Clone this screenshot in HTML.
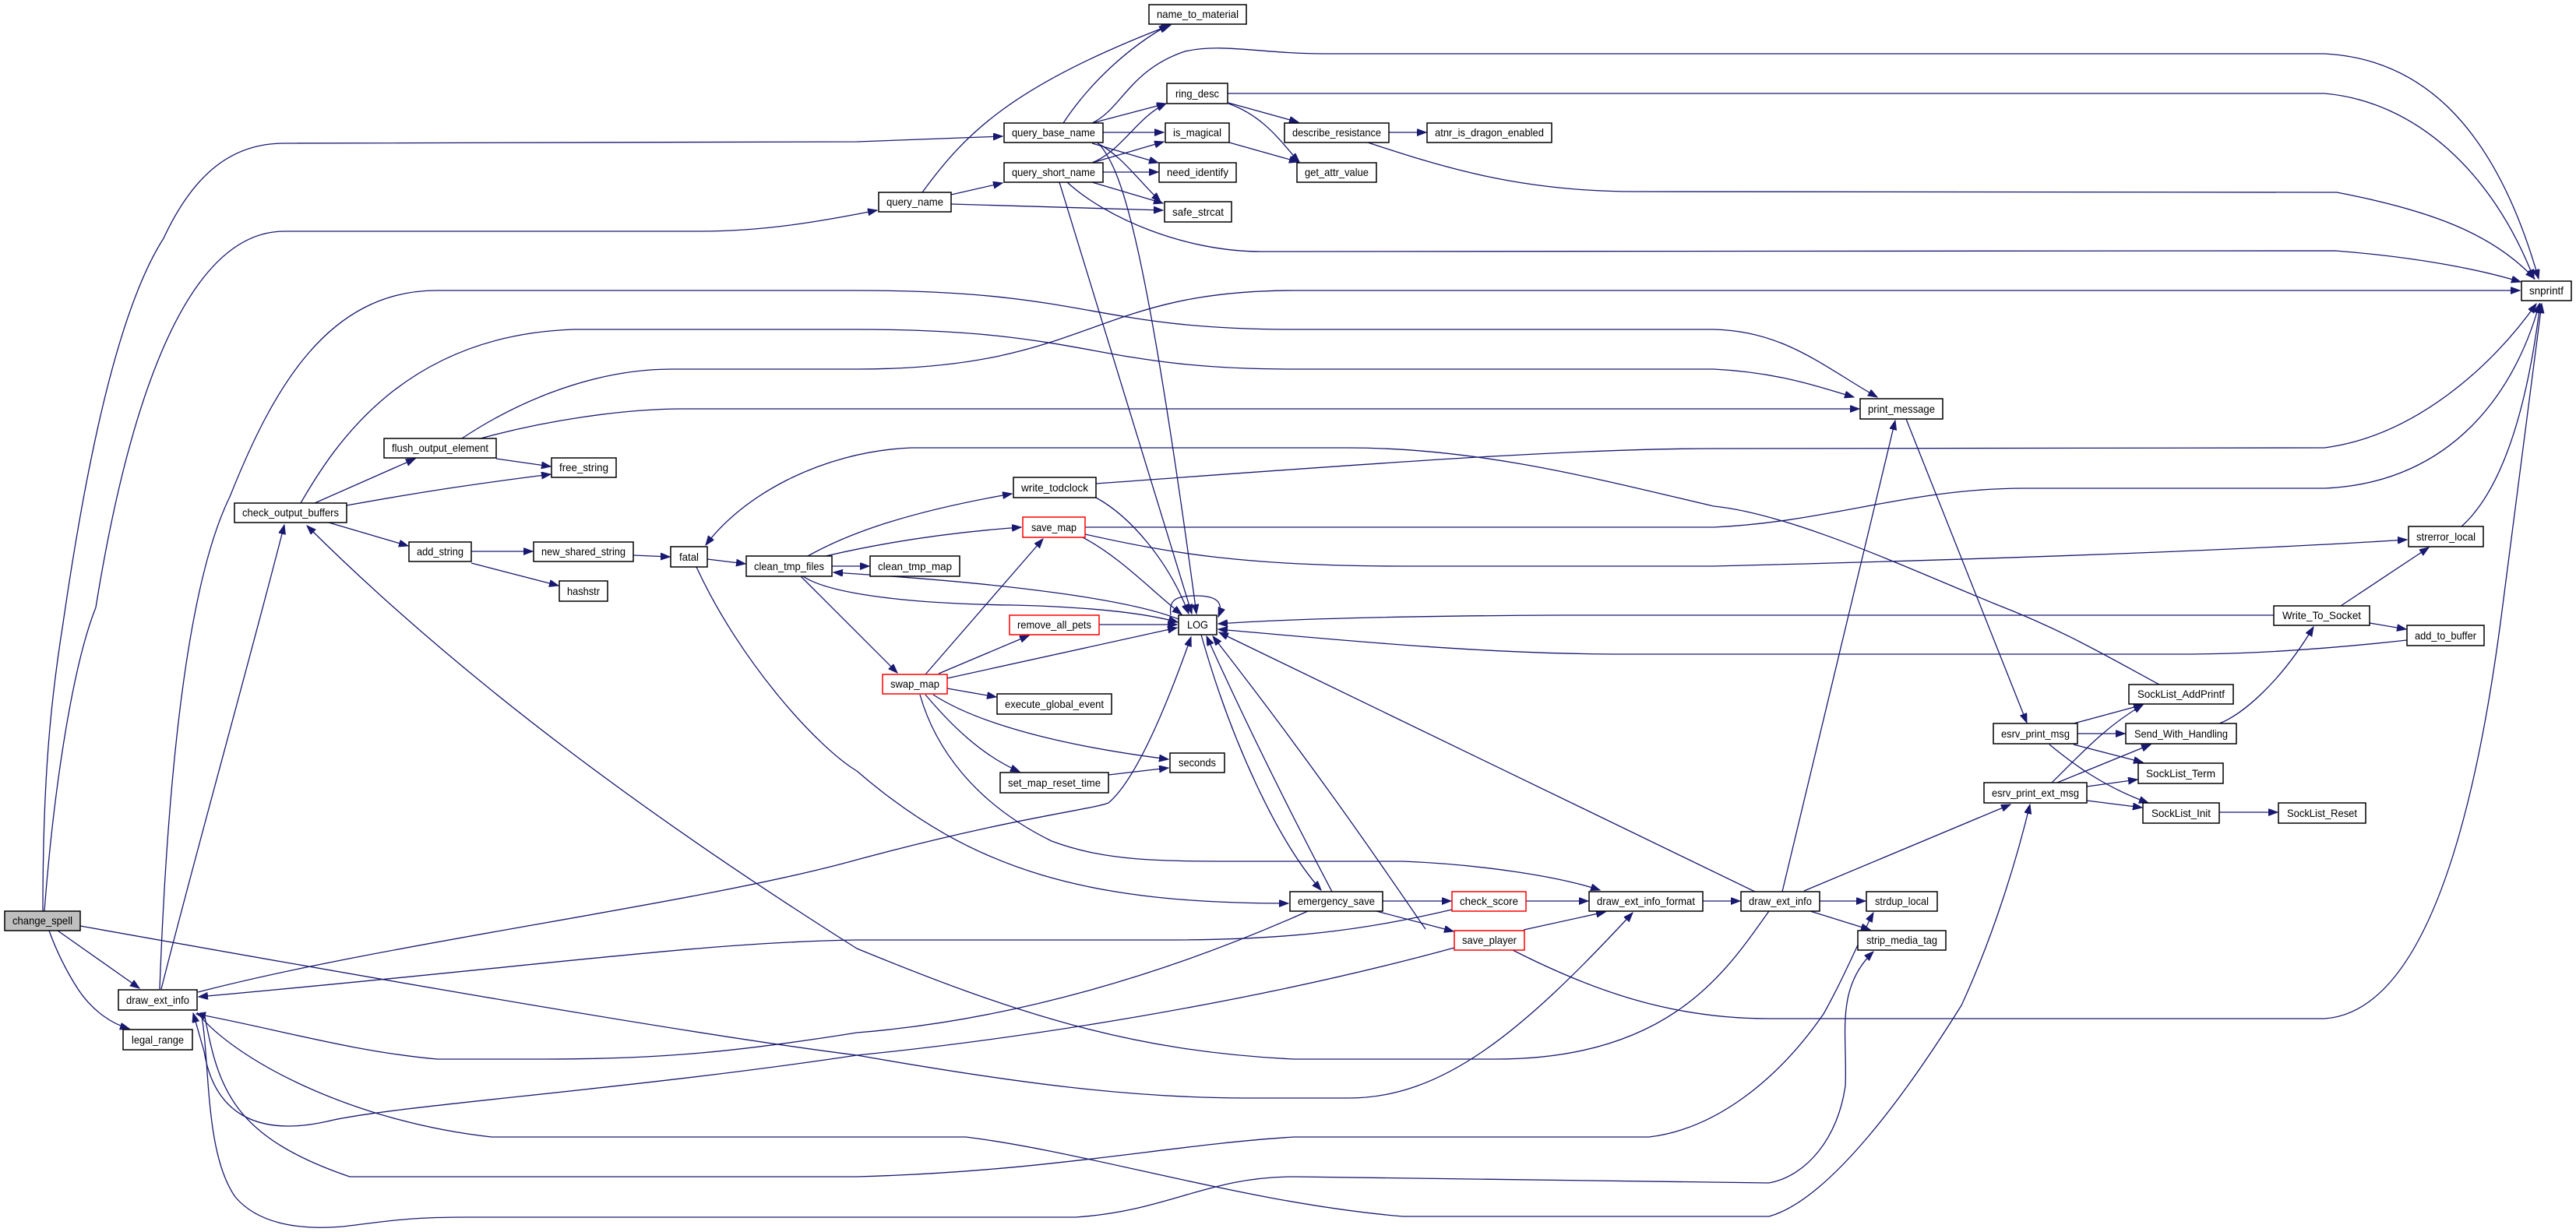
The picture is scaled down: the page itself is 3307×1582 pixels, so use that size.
<!DOCTYPE html>
<html><head><meta charset="utf-8"><style>
html,body{margin:0;padding:0;background:#fff}
svg{display:block}
text{font-family:"Liberation Sans Narrow","Liberation Sans",sans-serif;font-size:14px;fill:#000}
.e{fill:none;stroke:#191970;stroke-width:1.3}
.n{fill:#fff;stroke:#000;stroke-width:1.5}
.r{fill:#fff;stroke:#ff0000;stroke-width:1.5}
</style></head><body>
<svg width="3307" height="1582" viewBox="0 0 3307 1582" xmlns="http://www.w3.org/2000/svg">
<defs><marker id="a" markerWidth="13" markerHeight="10" refX="12" refY="4.5" orient="auto" markerUnits="userSpaceOnUse"><path d="M0,0 L12,4.5 L0,9z" fill="#191970" stroke="#191970"/></marker></defs>
<g class="e" marker-end="url(#a)">
<!-- change_spell -->
<path d="M55,1170 C55,1000 65,900 81,800 C110,600 150,400 210,306 C250,220 300,184 365,184 L1100,182 L1287,175"/>
<path d="M57,1170 C70,1000 95,850 123,780 C160,550 230,297 365,297 L898,297 C980,297 1050,285 1126,270"/>
<path d="M74,1195 L179,1269"/>
<path d="M63,1195 C72,1220 84,1245 100,1270 C120,1300 145,1315 166,1321"/>
<path d="M103,1189 C500,1260 900,1330 1100,1355 C1300,1390 1450,1410 1600,1410 L1731,1410 C1850,1410 1950,1330 2096,1172"/>
<!-- draw_ext_info left -->
<path d="M205,1270 C215,1000 240,750 295,638 C350,500 420,373 561,373 L1100,373 C1400,373 1400,423 1661,423 L2200,423 C2290,425 2340,470 2410,510"/>
<path d="M207,1270 C250,1100 320,850 365,674"/>
<path d="M254,1274 C500,1210 900,1160 1100,1104 C1300,1050 1400,1040 1423,1031 C1460,1000 1500,900 1529,818"/>
<path d="M253,1300 C300,1360 450,1440 631,1460 L1240,1460 C1400,1480 1600,1545 1801,1562 L2271,1562 C2350,1540 2450,1400 2518,1291 C2560,1200 2590,1100 2606,1033"/>
<path d="M262,1300 C280,1400 300,1460 449,1511 L1100,1511 C1350,1504 1500,1470 1661,1460 L2117,1460 C2200,1450 2280,1390 2341,1302 C2370,1250 2390,1200 2405,1172"/>
<path d="M258,1300 C270,1360 262,1480 302,1537 C330,1570 380,1580 440,1575 C500,1568 520,1563 600,1563 L1381,1563 C1500,1555 1550,1511 1661,1511 L2271,1519 C2320,1510 2360,1460 2369,1394 C2372,1330 2355,1270 2405,1222"/>
<!-- check_output_buffers -->
<path d="M386,646 C430,570 520,430 737,423 L1100,423 C1400,423 1400,474 1661,474 L2200,474 C2280,478 2330,495 2380,510"/>
<path d="M404,646 L533,589"/>
<path d="M445,649 C550,630 620,620 707,609"/>
<path d="M422,671 L524,701"/>
<path d="M593,563 C650,525 750,474 863,474 L1100,474 C1400,474 1400,373 1661,373 L3235,373"/>
<path d="M617,563 C700,540 800,525 877,525 L2387,525"/>
<path d="M637,589 L707,599"/>
<path d="M605,708 L684,708"/>
<path d="M605,723 L717,752"/>
<path d="M813,713 L860,715"/>
<path d="M908,718 L957,724"/>
<path d="M894,728 C950,850 1050,960 1100,990 C1250,1120 1400,1160 1654,1160"/>
<!-- clean_tmp_files -->
<path d="M1037,714 C1080,690 1150,660 1299,634"/>
<path d="M1060,714 C1120,700 1200,685 1311,677"/>
<path d="M1068,727 L1116,727"/>
<path d="M1031,740 C1060,760 1150,775 1300,777 C1420,780 1480,790 1512,799"/>
<path d="M1513,795 C1450,770 1300,750 1100,737 L1070,735"/>
<path d="M1028,740 L1152,864"/>
<!-- query nodes -->
<path d="M1184,247 C1240,170 1300,110 1503,32"/>
<path d="M1221,250 L1287,235"/>
<path d="M1221,262 L1493,270"/>
<path d="M1365,158 C1400,105 1450,60 1500,32"/>
<path d="M1402,158 L1497,133"/>
<path d="M1416,170 L1494,170"/>
<path d="M1402,184 L1487,209"/>
<path d="M1409,184 C1440,200 1460,230 1490,259"/>
<path d="M1412,186 C1440,220 1470,300 1536,788"/>
<path d="M1402,158 C1440,140 1450,90 1521,66 C1570,55 1620,69 1700,69 L2984,69 C3100,75 3200,150 3259,358"/>
<path d="M1402,209 C1440,194 1460,150 1497,133"/>
<path d="M1402,209 L1494,182"/>
<path d="M1416,221 L1487,221"/>
<path d="M1402,234 L1493,261"/>
<path d="M1360,234 L1530,788"/>
<path d="M1370,234 C1420,280 1521,323 1619,323 L2998,322 C3100,330 3180,345 3236,362"/>
<path d="M1576,120 L2984,120 C3100,130 3200,220 3253,358"/>
<path d="M1577,132 L1667,157"/>
<path d="M1577,133 C1626,150 1650,190 1668,208"/>
<path d="M1578,183 L1667,208"/>
<path d="M1783,170 L1831,170"/>
<path d="M1756,183 C1850,214 1950,246 2100,246 L3000,247 C3120,270 3200,300 3254,358"/>
<!-- write_todclock / save_map -->
<path d="M1407,621 C1700,600 2000,576 2200,576 L2984,575 C3100,560 3200,470 3256,390"/>
<path d="M1407,639 C1451,663 1500,720 1526,788"/>
<path d="M1393,677 L2200,677 C2350,670 2450,627 2600,627 L2984,627 C3150,620 3230,500 3260,390"/>
<path d="M1388,689 C1437,714 1480,760 1517,789"/>
<path d="M1393,686 C1500,710 1600,727 1800,727 L2200,727 C2600,717 2900,705 3090,693"/>
<path d="M3160,676 C3200,640 3240,560 3261,390"/>
<path d="M1942,1220 C2050,1275 2150,1308 2271,1308 L2984,1308 C3100,1300 3170,1100 3210,800 L3263,390"/>
<!-- swap_map -->
<path d="M1188,866 L1339,692"/>
<path d="M1205,865 L1321,816"/>
<path d="M1216,871 L1511,806"/>
<path d="M1216,884 L1279,895"/>
<path d="M1198,892 C1250,926 1350,956 1500,975"/>
<path d="M1188,892 C1220,930 1260,970 1309,991"/>
<path d="M1181,892 C1200,959 1250,1031 1350,1080 C1420,1106 1486,1106 1600,1106 L1801,1106 C1900,1110 2000,1125 2054,1143"/>
<path d="M1411,802 L1511,802"/>
<path d="M1423,995 L1500,986"/>
<!-- LOG -->
<path d="M1503,790 C1500,770 1510,765 1535,765 C1560,765 1572,772 1564,792"/>
<path d="M1542,815 C1580,950 1640,1080 1696,1143"/>
<path d="M1710,1145 C1660,1050 1600,930 1549,817"/>
<path d="M1830,1193 C1800,1150 1700,1000 1557,817"/>
<path d="M2253,1145 L1565,812"/>
<path d="M2919,790 L2000,790 C1800,791 1650,795 1564,801"/>
<path d="M3090,822 C3000,832 2900,840 2800,840 L2082,840 C1900,840 1700,820 1564,808"/>
<path d="M2772,879 C2700,840 2650,810 2560,775 C2450,730 2300,660 2200,650 C2050,615 1900,575 1731,575 L1170,575 C1050,580 950,640 906,700"/>
<!-- save stuff -->
<path d="M1775,1157 L1863,1157"/>
<path d="M1767,1170 L1866,1196"/>
<path d="M1959,1157 L2039,1157"/>
<path d="M1956,1194 L2061,1171"/>
<path d="M1864,1168 C1750,1195 1650,1207 1500,1207 L1100,1207 C900,1210 700,1240 255,1280"/>
<path d="M1679,1170 C1500,1250 1300,1310 1100,1326 C950,1350 850,1360 700,1360 L561,1360 C450,1350 350,1320 252,1302"/>
<path d="M1867,1217 C1600,1290 1300,1335 1100,1355 C800,1400 500,1420 420,1440 C330,1460 275,1430 262,1350 L248,1301"/>
<path d="M2271,1170 C2220,1240 2150,1360 1921,1360 L1661,1360 C1450,1350 1300,1300 1100,1218 C850,1060 600,880 394,675"/>
<!-- right side -->
<path d="M2186,1157 L2234,1157"/>
<path d="M2288,1145 L2433,540"/>
<path d="M2447,538 L2602,928"/>
<path d="M2316,1144 L2581,1033"/>
<path d="M2336,1157 L2395,1157"/>
<path d="M2324,1170 L2401,1194"/>
<path d="M2662,929 L2751,905"/>
<path d="M2667,942 L2728,942"/>
<path d="M2662,956 L2751,979"/>
<path d="M2631,956 C2660,980 2700,1010 2758,1031"/>
<path d="M2634,1005 C2670,970 2700,935 2751,905"/>
<path d="M2641,1005 L2761,956"/>
<path d="M2679,1010 L2744,1001"/>
<path d="M2679,1028 L2750,1037"/>
<path d="M2849,1043 L2924,1043"/>
<path d="M2849,929 C2878,918 2927,877 2970,805"/>
<path d="M3005,778 L3118,703"/>
<path d="M3042,800 L3089,808"/>
</g>
<g>
<rect class="n" x="6" y="1170" width="97" height="25" style="fill:#bfbfbf"/><text x="54.5" y="1187" text-anchor="middle" textLength="77" lengthAdjust="spacingAndGlyphs">change_spell</text>
<rect class="n" x="152" y="1271" width="101" height="26"/><text x="202.5" y="1289" text-anchor="middle" textLength="81" lengthAdjust="spacingAndGlyphs">draw_ext_info</text>
<rect class="n" x="158" y="1322" width="89" height="26"/><text x="202.5" y="1340" text-anchor="middle" textLength="67" lengthAdjust="spacingAndGlyphs">legal_range</text>
<rect class="n" x="301" y="646" width="144" height="25"/><text x="373" y="663" text-anchor="middle" textLength="124" lengthAdjust="spacingAndGlyphs">check_output_buffers</text>
<rect class="n" x="493" y="563" width="144" height="25"/><text x="565" y="580" text-anchor="middle" textLength="124" lengthAdjust="spacingAndGlyphs">flush_output_element</text>
<rect class="n" x="708" y="588" width="83" height="25"/><text x="749.5" y="605" text-anchor="middle" textLength="63" lengthAdjust="spacingAndGlyphs">free_string</text>
<rect class="n" x="525" y="696" width="80" height="25"/><text x="565" y="713" text-anchor="middle" textLength="60" lengthAdjust="spacingAndGlyphs">add_string</text>
<rect class="n" x="685" y="696" width="128" height="25"/><text x="749" y="713" text-anchor="middle" textLength="108" lengthAdjust="spacingAndGlyphs">new_shared_string</text>
<rect class="n" x="718" y="746" width="62" height="26"/><text x="749" y="764" text-anchor="middle" textLength="42" lengthAdjust="spacingAndGlyphs">hashstr</text>
<rect class="n" x="861" y="702" width="47" height="26"/><text x="884.5" y="720" text-anchor="middle" textLength="25" lengthAdjust="spacingAndGlyphs">fatal</text>
<rect class="n" x="958" y="714" width="110" height="26"/><text x="1013" y="732" text-anchor="middle" textLength="90" lengthAdjust="spacingAndGlyphs">clean_tmp_files</text>
<rect class="n" x="1475" y="6" width="125" height="25"/><text x="1537.5" y="23" text-anchor="middle" textLength="105" lengthAdjust="spacingAndGlyphs">name_to_material</text>
<rect class="n" x="1498" y="107" width="78" height="26"/><text x="1537" y="125" text-anchor="middle" textLength="56" lengthAdjust="spacingAndGlyphs">ring_desc</text>
<rect class="n" x="1289" y="158" width="127" height="25"/><text x="1352.5" y="175" text-anchor="middle" textLength="107" lengthAdjust="spacingAndGlyphs">query_base_name</text>
<rect class="n" x="1496" y="158" width="82" height="25"/><text x="1537" y="175" text-anchor="middle" textLength="62" lengthAdjust="spacingAndGlyphs">is_magical</text>
<rect class="n" x="1649" y="158" width="134" height="25"/><text x="1716" y="175" text-anchor="middle" textLength="114" lengthAdjust="spacingAndGlyphs">describe_resistance</text>
<rect class="n" x="1832" y="158" width="160" height="25"/><text x="1912" y="175" text-anchor="middle" textLength="140" lengthAdjust="spacingAndGlyphs">atnr_is_dragon_enabled</text>
<rect class="n" x="1289" y="209" width="127" height="25"/><text x="1352.5" y="226" text-anchor="middle" textLength="107" lengthAdjust="spacingAndGlyphs">query_short_name</text>
<rect class="n" x="1488" y="209" width="99" height="25"/><text x="1537.5" y="226" text-anchor="middle" textLength="79" lengthAdjust="spacingAndGlyphs">need_identify</text>
<rect class="n" x="1665" y="209" width="102" height="25"/><text x="1716" y="226" text-anchor="middle" textLength="82" lengthAdjust="spacingAndGlyphs">get_attr_value</text>
<rect class="n" x="1128" y="247" width="93" height="25"/><text x="1174.5" y="264" text-anchor="middle" textLength="73" lengthAdjust="spacingAndGlyphs">query_name</text>
<rect class="n" x="1495" y="259" width="86" height="26"/><text x="1538" y="277" text-anchor="middle" textLength="66" lengthAdjust="spacingAndGlyphs">safe_strcat</text>
<rect class="n" x="1301" y="613" width="106" height="26"/><text x="1354" y="631" text-anchor="middle" textLength="86" lengthAdjust="spacingAndGlyphs">write_todclock</text>
<rect class="r" x="1313" y="664" width="80" height="26"/><text x="1353" y="682" text-anchor="middle" textLength="58" lengthAdjust="spacingAndGlyphs">save_map</text>
<rect class="n" x="1117" y="714" width="115" height="26"/><text x="1174.5" y="732" text-anchor="middle" textLength="95" lengthAdjust="spacingAndGlyphs">clean_tmp_map</text>
<rect class="n" x="1513" y="790" width="49" height="25"/><text x="1537.5" y="807" text-anchor="middle" textLength="27" lengthAdjust="spacingAndGlyphs">LOG</text>
<rect class="r" x="1296" y="790" width="115" height="25"/><text x="1353.5" y="807" text-anchor="middle" textLength="95" lengthAdjust="spacingAndGlyphs">remove_all_pets</text>
<rect class="r" x="1133" y="866" width="83" height="25"/><text x="1174.5" y="883" text-anchor="middle" textLength="63" lengthAdjust="spacingAndGlyphs">swap_map</text>
<rect class="n" x="1280" y="891" width="147" height="26"/><text x="1353.5" y="909" text-anchor="middle" textLength="127" lengthAdjust="spacingAndGlyphs">execute_global_event</text>
<rect class="n" x="1502" y="967" width="70" height="25"/><text x="1537" y="984" text-anchor="middle" textLength="48" lengthAdjust="spacingAndGlyphs">seconds</text>
<rect class="n" x="1284" y="992" width="139" height="26"/><text x="1353.5" y="1010" text-anchor="middle" textLength="119" lengthAdjust="spacingAndGlyphs">set_map_reset_time</text>
<rect class="n" x="1656" y="1145" width="119" height="25"/><text x="1715.5" y="1162" text-anchor="middle" textLength="99" lengthAdjust="spacingAndGlyphs">emergency_save</text>
<rect class="r" x="1864" y="1145" width="95" height="25"/><text x="1911.5" y="1162" text-anchor="middle" textLength="75" lengthAdjust="spacingAndGlyphs">check_score</text>
<rect class="n" x="2040" y="1145" width="146" height="25"/><text x="2113" y="1162" text-anchor="middle" textLength="126" lengthAdjust="spacingAndGlyphs">draw_ext_info_format</text>
<rect class="r" x="1867" y="1195" width="90" height="25"/><text x="1912" y="1212" text-anchor="middle" textLength="70" lengthAdjust="spacingAndGlyphs">save_player</text>
<rect class="n" x="3237" y="361" width="64" height="25"/><text x="3269" y="378" text-anchor="middle" textLength="44" lengthAdjust="spacingAndGlyphs">snprintf</text>
<rect class="n" x="2388" y="512" width="106" height="26"/><text x="2441" y="530" text-anchor="middle" textLength="86" lengthAdjust="spacingAndGlyphs">print_message</text>
<rect class="n" x="3092" y="676" width="96" height="26"/><text x="3140" y="694" text-anchor="middle" textLength="76" lengthAdjust="spacingAndGlyphs">strerror_local</text>
<rect class="n" x="2919" y="778" width="123" height="25"/><text x="2980.5" y="795" text-anchor="middle" textLength="101" lengthAdjust="spacingAndGlyphs">Write_To_Socket</text>
<rect class="n" x="3090" y="803" width="99" height="26"/><text x="3139.5" y="821" text-anchor="middle" textLength="79" lengthAdjust="spacingAndGlyphs">add_to_buffer</text>
<rect class="n" x="2733" y="879" width="134" height="25"/><text x="2800" y="896" text-anchor="middle" textLength="112" lengthAdjust="spacingAndGlyphs">SockList_AddPrintf</text>
<rect class="n" x="2559" y="929" width="108" height="26"/><text x="2613" y="947" text-anchor="middle" textLength="88" lengthAdjust="spacingAndGlyphs">esrv_print_msg</text>
<rect class="n" x="2729" y="929" width="142" height="26"/><text x="2800" y="947" text-anchor="middle" textLength="120" lengthAdjust="spacingAndGlyphs">Send_With_Handling</text>
<rect class="n" x="2745" y="980" width="109" height="26"/><text x="2799.5" y="998" text-anchor="middle" textLength="89" lengthAdjust="spacingAndGlyphs">SockList_Term</text>
<rect class="n" x="2547" y="1005" width="132" height="26"/><text x="2613" y="1023" text-anchor="middle" textLength="112" lengthAdjust="spacingAndGlyphs">esrv_print_ext_msg</text>
<rect class="n" x="2751" y="1031" width="98" height="26"/><text x="2800" y="1049" text-anchor="middle" textLength="76" lengthAdjust="spacingAndGlyphs">SockList_Init</text>
<rect class="n" x="2925" y="1031" width="112" height="26"/><text x="2981" y="1049" text-anchor="middle" textLength="90" lengthAdjust="spacingAndGlyphs">SockList_Reset</text>
<rect class="n" x="2235" y="1145" width="101" height="25"/><text x="2285.5" y="1162" text-anchor="middle" textLength="81" lengthAdjust="spacingAndGlyphs">draw_ext_info</text>
<rect class="n" x="2396" y="1145" width="91" height="25"/><text x="2441.5" y="1162" text-anchor="middle" textLength="69" lengthAdjust="spacingAndGlyphs">strdup_local</text>
<rect class="n" x="2385" y="1195" width="113" height="25"/><text x="2441.5" y="1212" text-anchor="middle" textLength="91" lengthAdjust="spacingAndGlyphs">strip_media_tag</text>
</g>
</svg>
</body></html>
